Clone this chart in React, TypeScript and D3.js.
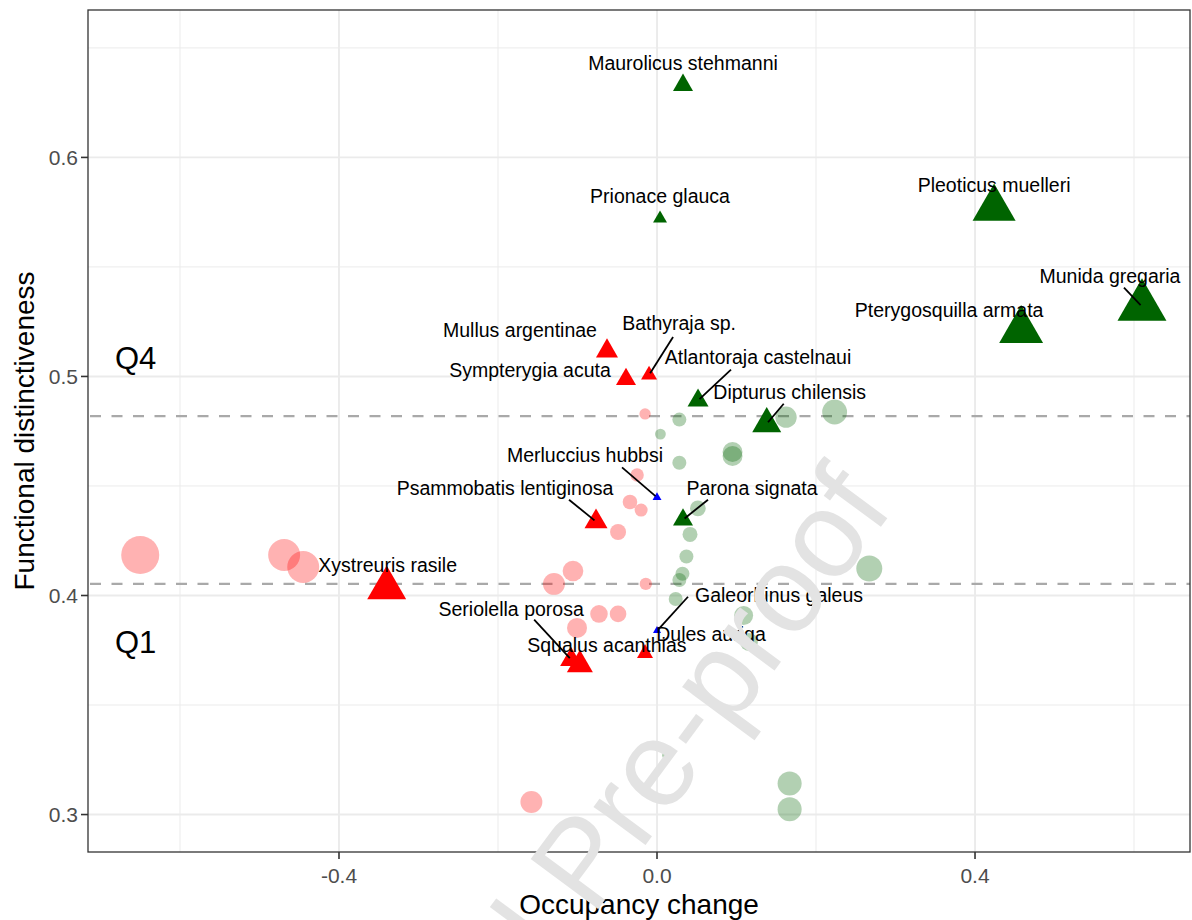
import React from 'react';
import * as d3 from 'd3';

// ---- data -------------------------------------------------------------
// Labelled species: occupancy change vs. functional distinctiveness
const speciesNames = [
  'Maurolicus stehmanni', 'Prionace glauca', 'Pleoticus muelleri', 'Munida gregaria',
  'Pterygosquilla armata', 'Atlantoraja castelnaui', 'Dipturus chilensis', 'Parona signata',
  'Mullus argentinae', 'Sympterygia acuta', 'Bathyraja sp.', 'Psammobatis lentiginosa',
  'Xystreuris rasile', 'Seriolella porosa', 'Squalus acanthias', 'Dules auriga',
  'Galeorhinus galeus', 'Merluccius hubbsi',
];
const speciesChange = [
  0.0327, 0.0038, 0.424, 0.61, 0.458, 0.0516, 0.138, 0.0327,
  -0.0629, -0.039, -0.01, -0.0767, -0.34, -0.108, -0.097, -0.0151,
  0.0, 0.0,
];
const speciesFD = [
  0.633, 0.5721, 0.5768, 0.5319, 0.5211, 0.489, 0.4784, 0.4346,
  0.5116, 0.4987, 0.5007, 0.4337, 0.4034, 0.3707, 0.3684, 0.3736,
  0.3839, 0.4448,
];
const speciesWeight = [
  16, 7.8, 74, 96, 77, 17.6, 33.6, 16,
  19.4, 16, 10.2, 21.2, 60.8, 19.4, 27, 10.2,
  2.6, 3.2,
];
const speciesTrend = [
  'gain', 'gain', 'gain', 'gain', 'gain', 'gain', 'gain', 'gain',
  'loss', 'loss', 'loss', 'loss', 'loss', 'loss', 'loss', 'loss',
  'stable', 'stable',
];

// Remaining species (unlabelled), losing occupancy
const lossChange = [-0.65, -0.469, -0.445, -0.1296, -0.1057, -0.0141, -0.073, -0.049, -0.1006, -0.015, -0.025, -0.034, -0.02, -0.049, -0.158];
const lossFD = [0.4185, 0.4185, 0.413, 0.4053, 0.4112, 0.4053, 0.3916, 0.3916, 0.3852, 0.4829, 0.455, 0.4427, 0.439, 0.429, 0.3057];
const lossWeight = [105, 74, 74, 35, 31, 11, 22.5, 20, 29, 9.4, 13, 15.5, 12.3, 18.6, 35];

// Remaining species (unlabelled), gaining occupancy
const gainChange = [0.0281, 0.0043, 0.095, 0.095, 0.0281, 0.0514, 0.0415, 0.037, 0.032, 0.0281, 0.0235, 0.109, 0.1156, 0.267, 0.1623, 0.2234, 0.0132, 0.1668, 0.1668];
const gainFD = [0.4803, 0.4737, 0.4655, 0.4637, 0.4606, 0.4398, 0.4279, 0.4178, 0.4099, 0.4071, 0.3984, 0.3909, 0.3788, 0.4123, 0.4814, 0.4838, 0.3271, 0.3142, 0.3024];
const gainWeight = [14.2, 8.5, 29, 29, 14.2, 18, 16.3, 14.2, 14.2, 14.2, 14.2, 26, 23.5, 49, 33, 45, 8.5, 42, 42];

// Quartile thresholds of functional distinctiveness
const q1Threshold = 0.4053;
const q4Threshold = 0.4819;

const xTicks = [-0.4, 0.0, 0.4];
const xTickLabels = ['-0.4', '0.0', '0.4'];
const xMinor = [-0.6, -0.2, 0.2, 0.6];
const yTicks = [0.3, 0.4, 0.5, 0.6];
const yTickLabels = ['0.3', '0.4', '0.5', '0.6'];
const yMinor = [0.35, 0.45, 0.55, 0.65];

// ---- layout -----------------------------------------------------------
const W = 1192;
const H = 920;
const panel = { left: 88, right: 1190, top: 10, bottom: 852 };
const FONT = "'Liberation Sans', Arial, Helvetica, sans-serif";

const trendColour: Record<string, string> = {
  gain: '#006400',
  loss: '#FF0000',
  stable: '#0000FF',
};

// Repelled label placement (offsets in px from the point; seg = leader start)
const labelLayout: Record<string, { dx: number; dy: number; seg?: [number, number] }> = {
  'Maurolicus stehmanni': { dx: 0, dy: -15 },
  'Prionace glauca': { dx: 0, dy: -16 },
  'Pleoticus muelleri': { dx: 0, dy: -16 },
  'Munida gregaria': { dx: -32, dy: -24, seg: [-18, -19] },
  'Pterygosquilla armata': { dx: -72, dy: -13 },
  'Atlantoraja castelnaui': { dx: 60, dy: -37, seg: [33, -31] },
  'Dipturus chilensis': { dx: 23, dy: -25, seg: [17, -20] },
  'Parona signata': { dx: 69, dy: -25, seg: [25, -20] },
  'Mullus argentinae': { dx: -87, dy: -14 },
  'Sympterygia acuta': { dx: -96, dy: -2 },
  'Bathyraja sp.': { dx: 30, dy: -45, seg: [24, -38] },
  'Psammobatis lentiginosa': { dx: -91, dy: -27, seg: [-27, -22] },
  'Xystreuris rasile': { dx: 1, dy: -16 },
  'Seriolella porosa': { dx: -60, dy: -44, seg: [-37, -40] },
  'Squalus acanthias': { dx: 27, dy: -13 },
  'Dules auriga': { dx: 66, dy: -12 },
  'Galeorhinus galeus': { dx: 122, dy: -29, seg: [31, -34] },
  'Merluccius hubbsi': { dx: -72, dy: -35, seg: [-35, -30] },
};

const x = d3.scaleLinear().domain([-0.7157, 0.6704]).range([panel.left, panel.right]);
const y = d3.scaleLinear().domain([0.2829, 0.6673]).range([panel.bottom, panel.top]);
// marker size: triangle width in px (area-proportional)
const size = d3.scaleSqrt().domain([0, 100]).range([0, 50]);
const circleRadius = (w: number) => size(w) / 2.6936;

function trianglePath(cx: number, cy: number, w: number): string {
  const r = w / Math.sqrt(3);
  const p = d3.path();
  p.moveTo(cx, cy - r);
  p.lineTo(cx + w / 2, cy + r / 2);
  p.lineTo(cx - w / 2, cy + r / 2);
  p.closePath();
  return p.toString();
}

export default function App() {
  const species = speciesNames.map((name, i) => ({
    name,
    cx: x(speciesChange[i]),
    cy: y(speciesFD[i]),
    w: size(speciesWeight[i]),
    colour: trendColour[speciesTrend[i]],
  }));

  const loss = lossChange.map((v, i) => ({ cx: x(v), cy: y(lossFD[i]), r: circleRadius(lossWeight[i]) }));
  const gain = gainChange.map((v, i) => ({ cx: x(v), cy: y(gainFD[i]), r: circleRadius(gainWeight[i]) }));

  return (
    <svg
      width={W}
      height={H}
      viewBox={`0 0 ${W} ${H}`}
      style={{ position: 'fixed', left: 0, top: 0, display: 'block', background: '#fff' }}
      fontFamily={FONT}
    >
      <defs>
        <clipPath id="panel-clip">
          <rect x={panel.left} y={panel.top} width={panel.right - panel.left} height={panel.bottom - panel.top} />
        </clipPath>
        <clipPath id="page-clip">
          <rect x={0} y={0} width={W} height={H} />
        </clipPath>
      </defs>
      <rect x={0} y={0} width={W} height={H} fill="#fff" />

      {/* grid */}
      <g stroke="#EBEBEB" fill="none">
        {xMinor.map((v) => (
          <line key={`xm${v}`} x1={x(v)} x2={x(v)} y1={panel.top} y2={panel.bottom} strokeWidth={1} />
        ))}
        {yMinor.filter((v) => y(v) > panel.top).map((v) => (
          <line key={`ym${v}`} x1={panel.left} x2={panel.right} y1={y(v)} y2={y(v)} strokeWidth={1} />
        ))}
        {xTicks.map((v) => (
          <line key={`xM${v}`} x1={x(v)} x2={x(v)} y1={panel.top} y2={panel.bottom} strokeWidth={1.9} />
        ))}
        {yTicks.map((v) => (
          <line key={`yM${v}`} x1={panel.left} x2={panel.right} y1={y(v)} y2={y(v)} strokeWidth={1.9} />
        ))}
      </g>

      {/* quartile thresholds */}
      <g stroke="#A9A9A9" strokeWidth={2.2} strokeDasharray="11 10.5">
        {[q4Threshold, q1Threshold].map((v) => (
          <line key={`q${v}`} x1={panel.left + 2} x2={panel.right} y1={y(v)} y2={y(v)} />
        ))}
      </g>

      <g clipPath="url(#panel-clip)">
        {gain.map((d, i) => (
          <circle key={`g${i}`} cx={d.cx} cy={d.cy} r={d.r} fill="#006400" fillOpacity={0.3} />
        ))}
        {loss.map((d, i) => (
          <circle key={`l${i}`} cx={d.cx} cy={d.cy} r={d.r} fill="#FF0000" fillOpacity={0.3} />
        ))}
        {species.map((d) => (
          <path key={`t${d.name}`} d={trianglePath(d.cx, d.cy, d.w)} fill={d.colour} />
        ))}
      </g>

      {/* quadrant tags */}
      <text x={115} y={369} fontSize={31} fill="#000">Q4</text>
      <text x={115} y={653} fontSize={31} fill="#000">Q1</text>

      {/* leaders and labels */}
      <g stroke="#000" strokeWidth={1.8}>
        {species.map((d) => {
          const L = labelLayout[d.name];
          if (!L || !L.seg) return null;
          const [sx, sy] = L.seg;
          const len = Math.hypot(sx, sy);
          const ex = d.cx + (sx / len) * 2;
          const ey = d.cy + (sy / len) * 2;
          return <line key={`s${d.name}`} x1={d.cx + sx} y1={d.cy + sy} x2={ex} y2={ey} />;
        })}
      </g>
      <g fontSize={19.5} fill="#000" textAnchor="middle">
        {species.map((d) => {
          const L = labelLayout[d.name];
          return (
            <text key={`lab${d.name}`} x={d.cx + L.dx} y={d.cy + L.dy}>
              {d.name}
            </text>
          );
        })}
      </g>

      {/* panel border */}
      <rect
        x={panel.left}
        y={panel.top}
        width={panel.right - panel.left}
        height={panel.bottom - panel.top}
        fill="none"
        stroke="#333333"
        strokeWidth={1.3}
      />

      {/* axes */}
      <g stroke="#333333" strokeWidth={1.6}>
        {yTicks.map((v) => (
          <line key={`yt${v}`} x1={panel.left - 7} x2={panel.left} y1={y(v)} y2={y(v)} />
        ))}
        {xTicks.map((v) => (
          <line key={`xt${v}`} x1={x(v)} x2={x(v)} y1={panel.bottom} y2={panel.bottom + 7} />
        ))}
      </g>
      <g fontSize={21} fill="#4D4D4D">
        {yTicks.map((v, i) => (
          <text key={`yl${v}`} x={panel.left - 10} y={y(v)} dy="0.36em" textAnchor="end">
            {yTickLabels[i]}
          </text>
        ))}
        {xTicks.map((v, i) => (
          <text key={`xl${v}`} x={x(v)} y={883} textAnchor="middle">
            {xTickLabels[i]}
          </text>
        ))}
      </g>
      <text x={(panel.left + panel.right) / 2} y={914} fontSize={28} textAnchor="middle" fill="#000">
        Occupancy change
      </text>
      <text
        transform={`translate(34, ${(panel.top + panel.bottom) / 2}) rotate(-90)`}
        fontSize={28}
        textAnchor="middle"
        fill="#000"
      >
        Functional distinctiveness
      </text>

      {/* journal watermark, running off the bottom edge of the page */}
      <g clipPath="url(#page-clip)">
        <text transform="translate(334, 1266) rotate(-53.5)" fontSize={122} fill="#E3E3E3">
          Journal Pre-proof
        </text>
      </g>
    </svg>
  );
}
